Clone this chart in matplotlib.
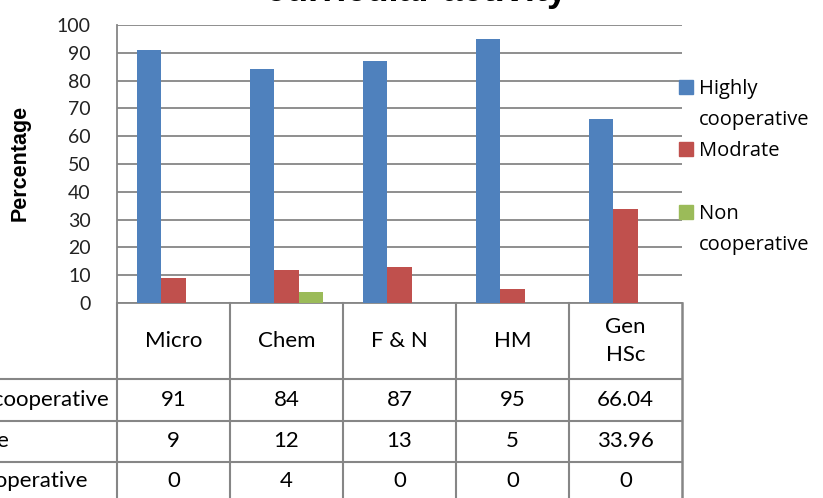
import numpy as np
import matplotlib
matplotlib.use("Agg")
import matplotlib.pyplot as plt
from matplotlib.patches import Rectangle

plt.rcParams['font.family'] = ['Lato', 'DejaVu Sans']

categories = ['Micro', 'Chem', 'F & N', 'HM', 'Gen\nHSc']
series_names = ['Highly cooperative', 'Modrate', 'Non cooperative']
legend_labels = ['Highly\ncooperative', 'Modrate', 'Non\ncooperative']
highly = [91, 84, 87, 95, 66.04]
modrate = [9, 12, 13, 5, 33.96]
non_coop = [0, 4, 0, 0, 0]
table_text = [['91', '84', '87', '95', '66.04'],
              ['9', '12', '13', '5', '33.96'],
              ['0', '4', '0', '0', '0']]
colors = ['#4F81BD', '#C0504D', '#9BBB59']
grid_c = '#868686'

W, H = 823, 498
fig = plt.figure(figsize=(W / 100, H / 100), dpi=100)

def fx(px):
    return px / W

def fy(py):
    return 1 - py / H

# main plot area
ax = fig.add_axes([fx(117), fy(303), (682 - 117) / W, (303 - 25) / H])
x = np.arange(len(categories))
bw = 0.217
for i, vals in enumerate([highly, modrate, non_coop]):
    ax.bar(x + (i - 1) * bw, vals, width=bw, color=colors[i], zorder=3)
ax.set_xlim(-0.5, 4.5)
ax.set_ylim(0, 100)
ax.set_yticks(range(0, 101, 10))
ax.set_xticks([])
ax.yaxis.grid(True, color=grid_c, lw=1.3, zorder=0)
ax.tick_params(axis='y', length=0, pad=19, labelsize=14, labelcolor='#222222')
for s in ['top', 'right']:
    ax.spines[s].set_visible(False)
for s in ['left', 'bottom']:
    ax.spines[s].set_color(grid_c)
    ax.spines[s].set_linewidth(1.3)
ax.set_ylabel('Percentage', fontsize=15.5, fontweight='bold',
              family=['Liberation Sans', 'DejaVu Sans'])
ax.yaxis.set_label_coords((31 - 117) / 565, (303 - 163) / 278)

# title (cropped at the top of the image)
fig.text(fx(417), fy(1), 'curricular activity', ha='center', va='baseline',
         fontsize=26, fontweight='bold', family=['Liberation Sans', 'DejaVu Sans'])

# data table below the plot
tab = fig.add_axes([fx(117), 0, (682 - 117) / W, (H - 303) / H])
tab.set_xlim(-0.5, 4.5)
tab.set_ylim(H, 303)
tab.axis('off')
px2x = 1 / 113.0
left_edge = -0.5 - 130 * px2x
row_lines = [379, 421, 462]
row_mid = [400, 441, 481]
for yl in row_lines:
    tab.plot([left_edge, 4.5], [yl, yl], color=grid_c, lw=1.5, clip_on=False)
for xv in np.arange(-0.5, 5.0, 1.0):
    tab.plot([xv, xv], [303, H + 5], color=grid_c, lw=1.8 if xv == 4.5 else 1.5,
             clip_on=False)
for j, c in enumerate(categories):
    tab.text(j, 341, c, ha='center', va='center', fontsize=16, linespacing=1.45)
label_x = -0.5 + (-76 - 117) * px2x
for r, name in enumerate(series_names):
    tab.text(label_x, row_mid[r], name, ha='left', va='center', fontsize=16,
             clip_on=False)
    for j in range(len(categories)):
        tab.text(j, row_mid[r], table_text[r][j], ha='center', va='center',
                 fontsize=16)

# legend on the right
leg_y = [87, 149, 212]
for i, lab in enumerate(legend_labels):
    fig.add_artist(Rectangle((fx(679), fy(leg_y[i] + 7)), 14 / W, 14 / H,
                             transform=fig.transFigure, color=colors[i]))
    fig.text(fx(699), fy(leg_y[i] - 8), lab, ha='left', va='top',
             fontsize=14.5, linespacing=1.75,
             family=['Open Sans', 'DejaVu Sans'])

fig.savefig('out.png', dpi=100)
